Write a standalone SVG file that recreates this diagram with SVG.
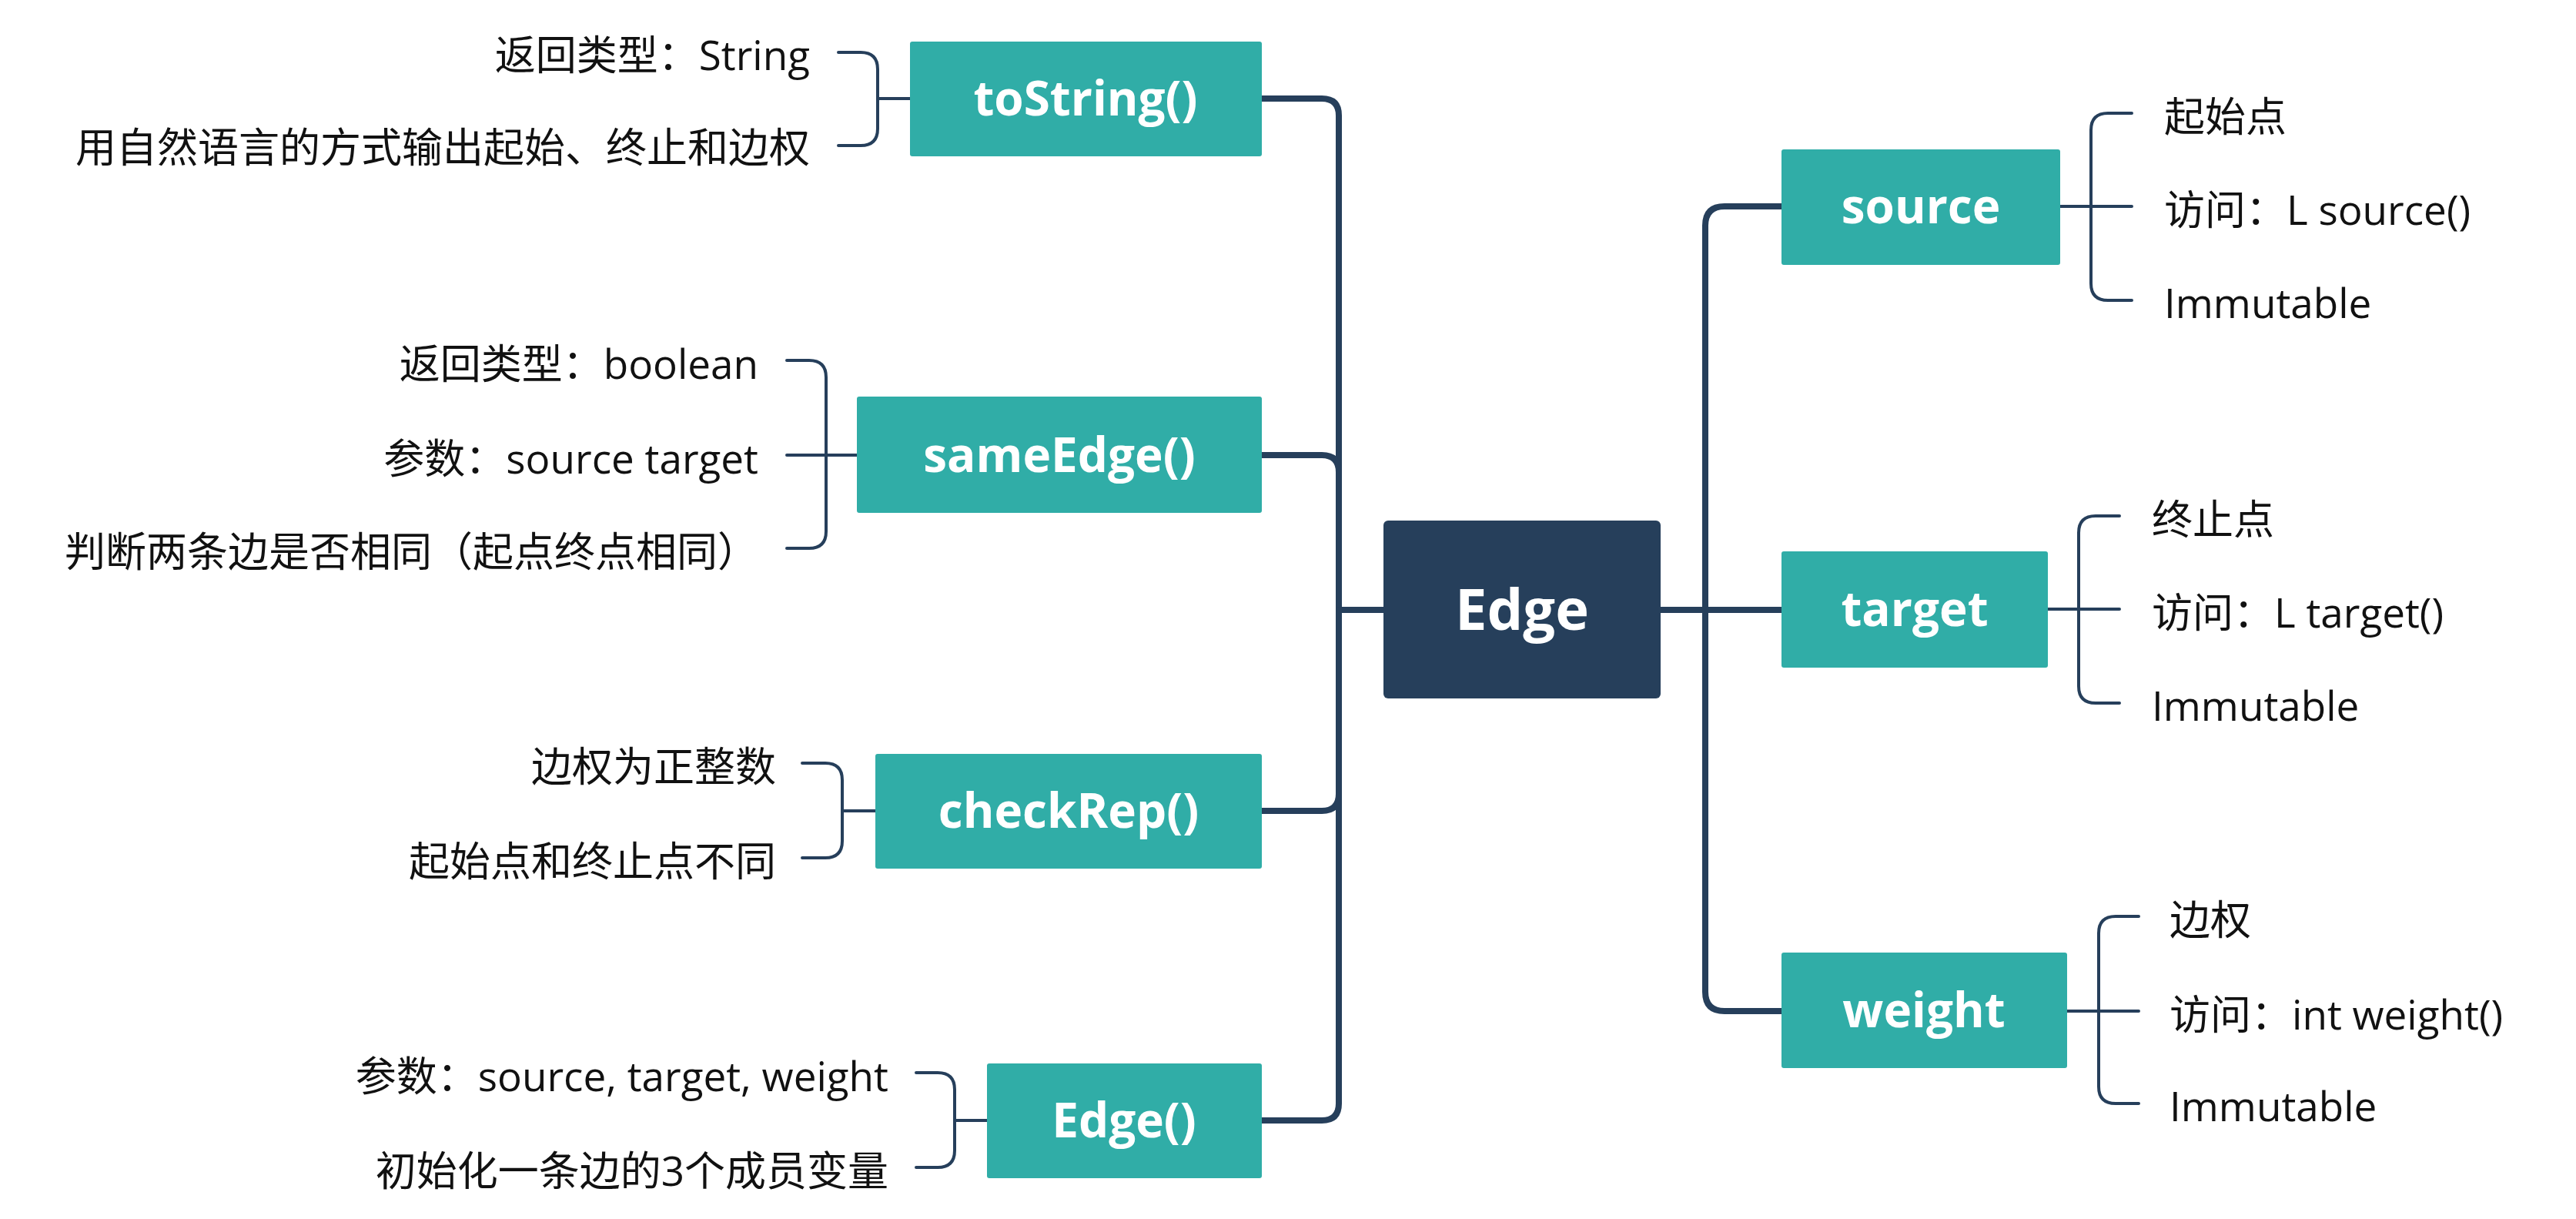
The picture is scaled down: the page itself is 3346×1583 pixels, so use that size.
<svg xmlns="http://www.w3.org/2000/svg" width="3346" height="1583" viewBox="0 0 3346 1583">
<style>
.bg{fill:#ffffff}
.main{fill:none;stroke:#263F5B;stroke-width:8;stroke-linejoin:round}
.br{fill:none;stroke:#263F5B;stroke-width:4;stroke-linecap:round}
.box{fill:#30ADA7}
.root{fill:#263F5B}
.lbl{font-family:"Open Sans","Noto Sans CJK SC",sans-serif;font-weight:bold;font-size:62px;fill:#ffffff;text-anchor:middle}
.rootlbl{font-family:"Open Sans","Noto Sans CJK SC",sans-serif;font-weight:bold;font-size:74px;fill:#ffffff;text-anchor:middle}
.t{font-family:"Open Sans","Noto Sans CJK SC",sans-serif;font-size:53px;fill:#111111}
.l{text-anchor:end}
</style>
<rect class="bg" x="0" y="0" width="3346" height="1583"/>
<g id="connectors">
<path class="main" d="M1797,792 H1739 V150 Q1739,128 1717,128 H1639"/>
<path class="main" d="M1797,792 H1739 V613 Q1739,591 1717,591 H1639"/>
<path class="main" d="M1797,792 H1739 V1031 Q1739,1053 1717,1053 H1639"/>
<path class="main" d="M1797,792 H1739 V1433 Q1739,1455 1717,1455 H1639"/>
<path class="main" d="M2157,792 H2215 V293 Q2215,268 2240,268 H2314"/>
<path class="main" d="M2157,792 H2314"/>
<path class="main" d="M2157,792 H2215 V1288 Q2215,1313 2240,1313 H2314"/>
<path class="br" d="M1089,68 H1118 Q1140,68 1140,90 V167 Q1140,189 1118,189 H1089 M1140,128 H1182"/>
<path class="br" d="M1022,468 H1051 Q1073,468 1073,490 V690 Q1073,712 1051,712 H1022 M1022,591 H1113"/>
<path class="br" d="M1042,991 H1072 Q1094,991 1094,1013 V1092 Q1094,1114 1072,1114 H1042 M1094,1053 H1137"/>
<path class="br" d="M1190,1393 H1218 Q1240,1393 1240,1415 V1494 Q1240,1516 1218,1516 H1190 M1240,1455 H1282"/>
<path class="br" d="M2769,147 H2738 Q2716,147 2716,169 V368 Q2716,390 2738,390 H2769 M2676,268 H2769"/>
<path class="br" d="M2753,670 H2722 Q2700,670 2700,692 V891 Q2700,913 2722,913 H2753 M2660,791 H2753"/>
<path class="br" d="M2778,1190 H2748 Q2726,1190 2726,1212 V1411 Q2726,1433 2748,1433 H2778 M2685,1313 H2778"/>
</g>
<g id="node-edge">
<rect class="root" x="1797" y="676" width="360" height="231" rx="6"/>
<text class="rootlbl" x="1977" y="818">Edge</text>
</g>
<g id="node-tostring">
<rect class="box" x="1182" y="54" width="457" height="149" rx="3"/>
<text class="lbl" x="1410" y="150">toString()</text>
<text class="t l" x="1052" y="91">返回类型：String</text>
<text class="t l" x="1052" y="211">用自然语言的方式输出起始、终止和边权</text>
</g>
<g id="node-sameedge">
<rect class="box" x="1113" y="515" width="526" height="151" rx="3"/>
<text class="lbl" x="1376" y="613">sameEdge()</text>
<text class="t l" x="985" y="492">返回类型：boolean</text>
<text class="t l" x="985" y="615">参数：source target</text>
<text class="t l" x="985" y="736">判断两条边是否相同（起点终点相同）</text>
</g>
<g id="node-checkrep">
<rect class="box" x="1137" y="979" width="502" height="149" rx="3"/>
<text class="lbl" x="1388" y="1075">checkRep()</text>
<text class="t l" x="1008" y="1015">边权为正整数</text>
<text class="t l" x="1008" y="1138">起始点和终止点不同</text>
</g>
<g id="node-ctor">
<rect class="box" x="1282" y="1381" width="357" height="149" rx="3"/>
<text class="lbl" x="1460" y="1477">Edge()</text>
<text class="t l" x="1154" y="1417">参数：source, target, weight</text>
<text class="t l" x="1154" y="1540">初始化一条边的3个成员变量</text>
</g>
<g id="node-source">
<rect class="box" x="2314" y="194" width="362" height="150" rx="3"/>
<text class="lbl" x="2495" y="290">source</text>
<text class="t" x="2811" y="171">起始点</text>
<text class="t" x="2811" y="292">访问：L source()</text>
<text class="t" x="2811" y="413">Immutable</text>
</g>
<g id="node-target">
<rect class="box" x="2314" y="716" width="346" height="151" rx="3"/>
<text class="lbl" x="2487" y="813">target</text>
<text class="t" x="2795" y="694">终止点</text>
<text class="t" x="2795" y="815">访问：L target()</text>
<text class="t" x="2795" y="936">Immutable</text>
</g>
<g id="node-weight">
<rect class="box" x="2314" y="1237" width="371" height="150" rx="3"/>
<text class="lbl" x="2499" y="1334">weight</text>
<text class="t" x="2818" y="1214">边权</text>
<text class="t" x="2818" y="1337">访问：int weight()</text>
<text class="t" x="2818" y="1456">Immutable</text>
</g>
</svg>
